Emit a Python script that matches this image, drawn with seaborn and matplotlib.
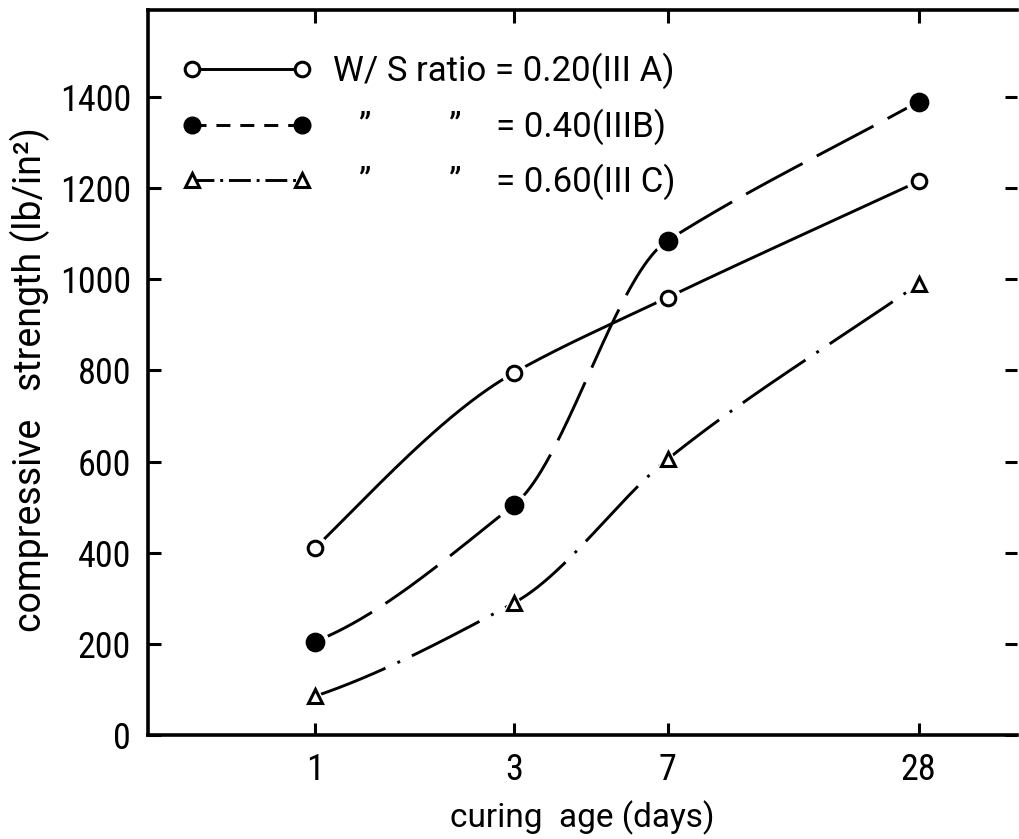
import numpy as np
import matplotlib
matplotlib.use("Agg")
import matplotlib.pyplot as plt
from matplotlib.lines import Line2D
import seaborn as sns

# ---- data ----
curing_age = [1, 3, 7, 28]
strength_A = [410, 795, 960, 1215]    # W/S = 0.20 (III A)
strength_B = [205, 505, 1085, 1390]   # W/S = 0.40 (IIIB)
strength_C = [85, 290, 605, 990]      # W/S = 0.60 (III C)
x_ticks = [1, 3, 7, 28]
y_ticks = [0, 200, 400, 600, 800, 1000, 1200, 1400]
labels = ["W/ S ratio = 0.20(III A)",
          "   \u201D         \u201D    = 0.40(IIIB)",
          "   \u201D         \u201D    = 0.60(III C)"]

sns.set_style("ticks")
plt.rcParams["font.family"] = ["Roboto Condensed", "Liberation Sans Narrow", "DejaVu Sans"]
plt.rcParams["text.color"] = "black"
plt.rcParams["axes.labelcolor"] = "black"
plt.rcParams["xtick.color"] = "black"
plt.rcParams["ytick.color"] = "black"
plt.rcParams["axes.edgecolor"] = "black"
LABEL_FONT = ["Roboto", "DejaVu Sans"]


def smooth(x, y, xs):
    x = np.asarray(x, float); y = np.asarray(y, float)
    h = np.diff(x); d = np.diff(y) / h
    m = np.zeros_like(y)
    m[-1] = d[-1]
    e0 = ((2 * h[0] + h[1]) * d[0] - h[0] * d[1]) / (h[0] + h[1])
    m[0] = 0.5 * (max(e0, 0) + d[0])
    for k in range(1, len(x) - 1):
        if d[k - 1] * d[k] > 0:
            w1 = 2 * h[k] + h[k - 1]; w2 = h[k] + 2 * h[k - 1]
            pc = (w1 + w2) / (w1 / d[k - 1] + w2 / d[k])
            m[k] = min(pc, 1.15 * min(d[k - 1], d[k]))
    out = np.empty_like(xs)
    idx = np.clip(np.searchsorted(x, xs) - 1, 0, len(x) - 2)
    for i, (xv, k) in enumerate(zip(xs, idx)):
        t = (xv - x[k]) / h[k]
        h00 = 2 * t**3 - 3 * t**2 + 1; h10 = t**3 - 2 * t**2 + t
        h01 = -2 * t**3 + 3 * t**2; h11 = t**3 - t**2
        out[i] = h00 * y[k] + h10 * h[k] * m[k] + h01 * y[k + 1] + h11 * h[k] * m[k + 1]
    return out


fig = plt.figure(figsize=(10.19, 8.39), dpi=100)
ax = fig.add_axes([0.145, 0.124, 0.853, 0.864])

series = [
    (strength_A, "-", "o", "white", 10.5),
    (strength_B, (0, (22, 5.5)), "o", "black", 12),
    (strength_C, (0, (26, 4.5, 1, 4.5)), "^", "white", 10.5),
]
lx = np.log10(curing_age)
xs_log = np.linspace(lx[0], lx[-1], 500)
xs = 10 ** xs_log
for vals, ls, mk, fc, ms in series:
    ys = smooth(lx, vals, xs_log)
    sns.lineplot(x=xs, y=ys, ax=ax, color="black", lw=2.1, linestyle=ls,
                 sort=False, estimator=None)
    # white halo to leave a small gap around each marker
    ax.plot(curing_age, vals, linestyle="none", marker=mk, ms=ms + 7,
            mfc="white", mec="white", zorder=3)
    ax.plot(curing_age, vals, linestyle="none", marker=mk, ms=ms,
            mfc=fc, mec="black", mew=2.2, zorder=4)

ax.set_xscale("log")
ax.set_xlim(0.397, 48.2)
ax.set_ylim(0, 1591)
ax.set_xticks(x_ticks)
ax.set_xticklabels([str(v) for v in x_ticks])
ax.xaxis.set_minor_locator(matplotlib.ticker.NullLocator())
ax.set_yticks(y_ticks)
ax.tick_params(axis="both", direction="in", length=9, width=2.2, labelsize=26,
               top=True, right=True)
ax.tick_params(axis="x", pad=12)
ax.tick_params(axis="y", pad=12)
for s in ["left", "bottom", "top"]:
    ax.spines[s].set_linewidth(2.6)
ax.spines["right"].set_visible(False)

ax.set_xlabel("curing  age (days)", fontsize=24, family=LABEL_FONT)
ax.set_ylabel("compressive   strength (lb/in\u00b2)", fontsize=27, family=LABEL_FONT)
ax.xaxis.set_label_coords(0.5, -0.09)
ax.yaxis.set_label_coords(-0.113, 0.49)

handles = [
    Line2D([], [], color="black", lw=2.1, linestyle="-", marker="o", ms=10.5,
           mfc="white", mec="black", mew=2.2),
    Line2D([], [], color="black", lw=2.1, linestyle=(0, (4.8, 3.4)), marker="o", ms=12,
           mfc="black", mec="black"),
    Line2D([], [], color="black", lw=2.1, linestyle=(0, (7.5, 2, 1, 2)), marker="^", ms=10.5,
           mfc="white", mec="black", mew=2.2),
]
ax.legend(handles, labels, loc="upper left", numpoints=2, frameon=False,
          prop={"family": LABEL_FONT, "size": 25},
          handlelength=3.77, handletextpad=0.6, labelspacing=0.55,
          markerscale=1.0, bbox_to_anchor=(0.0227, 0.960), borderaxespad=0.0,
          borderpad=0.4)

fig.savefig("out.png", dpi=100)
